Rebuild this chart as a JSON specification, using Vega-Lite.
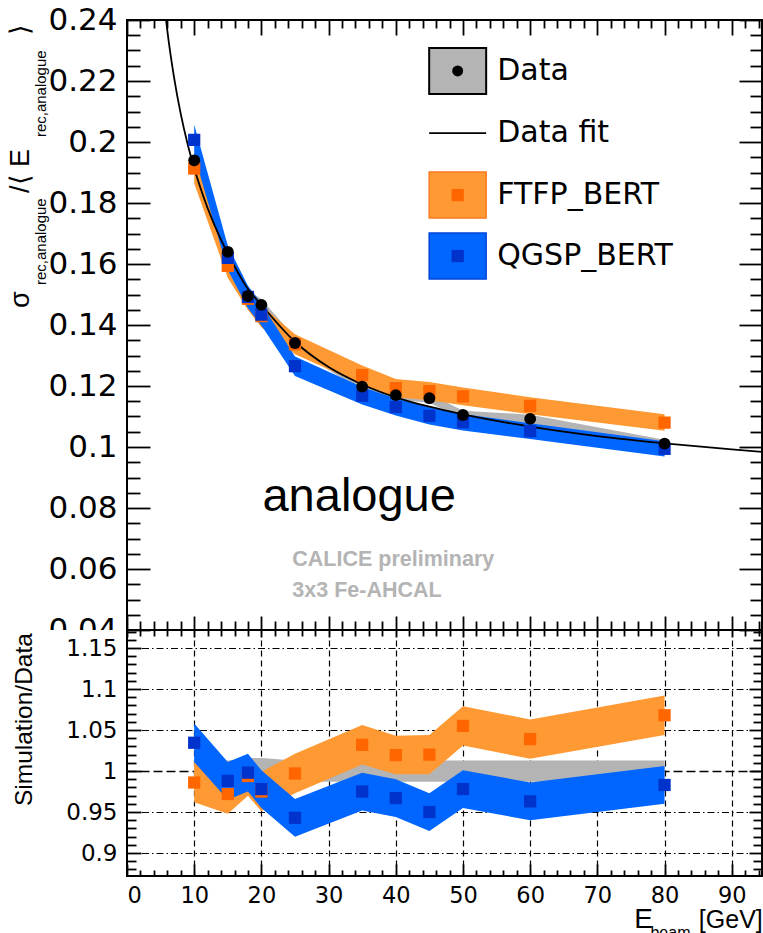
{
  "$schema": "https://vega.github.io/schema/vega-lite/v6.json",
  "padding": {"left": 6, "top": 3, "right": 0, "bottom": 0},
  "bounds": "flush",
  "spacing": 0,
  "config": {
    "view": {"stroke": "black", "strokeWidth": 2},
    "axis": {"domain": false, "grid": false, "tickColor": "black", "tickWidth": 1.8, "labelColor": "black", "labelFont": "DejaVu Sans"}
  },
  "datasets": {
    "one": [{"k": 1}],
    "mc": [
      {"E": 10, "sample": "Data", "v": 0.194, "lo": 0.1915, "hi": 0.1965, "r": 1, "rlo": 0.985, "rhi": 1.015},
      {"E": 15, "sample": "Data", "v": 0.164, "lo": 0.1619, "hi": 0.1661, "r": 1, "rlo": 0.987, "rhi": 1.013},
      {"E": 18, "sample": "Data", "v": 0.1495, "lo": 0.1476, "hi": 0.1514, "r": 1, "rlo": 0.986, "rhi": 1.016},
      {"E": 20, "sample": "Data", "v": 0.1466, "lo": 0.1447, "hi": 0.1485, "r": 1, "rlo": 0.986, "rhi": 1.016},
      {"E": 25, "sample": "Data", "v": 0.1341, "lo": 0.1324, "hi": 0.1358, "r": 1, "rlo": 0.987, "rhi": 1.013},
      {"E": 35, "sample": "Data", "v": 0.1198, "lo": 0.1182, "hi": 0.1214, "r": 1, "rlo": 0.987, "rhi": 1.013},
      {"E": 40, "sample": "Data", "v": 0.117, "lo": 0.1155, "hi": 0.1185, "r": 1, "rlo": 0.987, "rhi": 1.013},
      {"E": 45, "sample": "Data", "v": 0.116, "lo": 0.1145, "hi": 0.1175, "r": 1, "rlo": 0.987, "rhi": 1.013},
      {"E": 50, "sample": "Data", "v": 0.1105, "lo": 0.1091, "hi": 0.1119, "r": 1, "rlo": 0.987, "rhi": 1.013},
      {"E": 60, "sample": "Data", "v": 0.1092, "lo": 0.1078, "hi": 0.1106, "r": 1, "rlo": 0.987, "rhi": 1.013},
      {"E": 80, "sample": "Data", "v": 0.1011, "lo": 0.0998, "hi": 0.1024, "r": 1, "rlo": 0.987, "rhi": 1.013},
      {"E": 10, "sample": "FTFP_BERT", "v": 0.1913, "lo": 0.1865, "hi": 0.1961, "r": 0.986, "rlo": 0.962, "rhi": 1.010},
      {"E": 15, "sample": "FTFP_BERT", "v": 0.1594, "lo": 0.1554, "hi": 0.1634, "r": 0.972, "rlo": 0.948, "rhi": 0.996},
      {"E": 18, "sample": "FTFP_BERT", "v": 0.1486, "lo": 0.1449, "hi": 0.1523, "r": 0.994, "rlo": 0.970, "rhi": 1.018},
      {"E": 20, "sample": "FTFP_BERT", "v": 0.1429, "lo": 0.1393, "hi": 0.1465, "r": 0.975, "rlo": 0.951, "rhi": 0.999},
      {"E": 25, "sample": "FTFP_BERT", "v": 0.1337, "lo": 0.1304, "hi": 0.1370, "r": 0.997, "rlo": 0.973, "rhi": 1.021},
      {"E": 35, "sample": "FTFP_BERT", "v": 0.1236, "lo": 0.1205, "hi": 0.1267, "r": 1.032, "rlo": 1.008, "rhi": 1.056},
      {"E": 40, "sample": "FTFP_BERT", "v": 0.1193, "lo": 0.1163, "hi": 0.1223, "r": 1.0195, "rlo": 0.996, "rhi": 1.043},
      {"E": 45, "sample": "FTFP_BERT", "v": 0.1183, "lo": 0.1153, "hi": 0.1213, "r": 1.02, "rlo": 0.996, "rhi": 1.044},
      {"E": 50, "sample": "FTFP_BERT", "v": 0.1166, "lo": 0.1137, "hi": 0.1195, "r": 1.055, "rlo": 1.031, "rhi": 1.079},
      {"E": 60, "sample": "FTFP_BERT", "v": 0.1135, "lo": 0.1107, "hi": 0.1163, "r": 1.039, "rlo": 1.015, "rhi": 1.063},
      {"E": 80, "sample": "FTFP_BERT", "v": 0.1080, "lo": 0.1053, "hi": 0.1107, "r": 1.068, "rlo": 1.044, "rhi": 1.092},
      {"E": 10, "sample": "QGSP_BERT", "v": 0.2007, "lo": 0.1957, "hi": 0.2057, "r": 1.0345, "rlo": 1.011, "rhi": 1.058},
      {"E": 15, "sample": "QGSP_BERT", "v": 0.1620, "lo": 0.1580, "hi": 0.1660, "r": 0.988, "rlo": 0.965, "rhi": 1.011},
      {"E": 18, "sample": "QGSP_BERT", "v": 0.1492, "lo": 0.1455, "hi": 0.1529, "r": 0.998, "rlo": 0.975, "rhi": 1.021},
      {"E": 20, "sample": "QGSP_BERT", "v": 0.1434, "lo": 0.1398, "hi": 0.1470, "r": 0.978, "rlo": 0.955, "rhi": 1.001},
      {"E": 25, "sample": "QGSP_BERT", "v": 0.1265, "lo": 0.1233, "hi": 0.1297, "r": 0.943, "rlo": 0.920, "rhi": 0.966},
      {"E": 35, "sample": "QGSP_BERT", "v": 0.1168, "lo": 0.1139, "hi": 0.1197, "r": 0.975, "rlo": 0.952, "rhi": 0.998},
      {"E": 40, "sample": "QGSP_BERT", "v": 0.1131, "lo": 0.1103, "hi": 0.1159, "r": 0.967, "rlo": 0.944, "rhi": 0.990},
      {"E": 45, "sample": "QGSP_BERT", "v": 0.1102, "lo": 0.1074, "hi": 0.1130, "r": 0.950, "rlo": 0.927, "rhi": 0.973},
      {"E": 50, "sample": "QGSP_BERT", "v": 0.1081, "lo": 0.1054, "hi": 0.1108, "r": 0.978, "rlo": 0.955, "rhi": 1.001},
      {"E": 60, "sample": "QGSP_BERT", "v": 0.1052, "lo": 0.1026, "hi": 0.1078, "r": 0.963, "rlo": 0.940, "rhi": 0.986},
      {"E": 80, "sample": "QGSP_BERT", "v": 0.0994, "lo": 0.0969, "hi": 0.1019, "r": 0.983, "rlo": 0.960, "rhi": 1.006}
    ],
    "fit": [
      {"E": 5.5, "f": 0.246}, {"E": 6, "f": 0.2365}, {"E": 7, "f": 0.2212}, {"E": 8, "f": 0.2092},
      {"E": 9, "f": 0.1995}, {"E": 10, "f": 0.1915}, {"E": 11, "f": 0.1845}, {"E": 12, "f": 0.1783},
      {"E": 14, "f": 0.1679}, {"E": 15, "f": 0.1635}, {"E": 18, "f": 0.1518}, {"E": 20, "f": 0.1466},
      {"E": 25, "f": 0.1345}, {"E": 30, "f": 0.1262}, {"E": 35, "f": 0.1205}, {"E": 40, "f": 0.1163},
      {"E": 45, "f": 0.1132}, {"E": 50, "f": 0.1107}, {"E": 60, "f": 0.1067}, {"E": 70, "f": 0.1036},
      {"E": 80, "f": 0.1012}, {"E": 90, "f": 0.0992}, {"E": 94.5, "f": 0.0984}
    ]
  },
  "vconcat": [
    {
      "width": 635,
      "height": 610,
      "data": {"name": "mc"},
      "resolve": {"axis": {"x": "independent", "y": "independent"}},
      "layer": [
        {
          "mark": {"type": "point", "opacity": 0},
          "encoding": {
            "x": {"field": "E", "type": "quantitative", "scale": {"domain": [0, 94.5], "nice": false, "zero": false},
              "axis": {"orient": "bottom", "values": [0, 10, 20, 30, 40, 50, 60, 70, 80, 90], "labels": false, "tickSize": -14, "title": null}},
            "y": {"field": "v", "type": "quantitative", "scale": {"domain": [0.04, 0.24], "nice": false, "zero": false},
              "axis": {"orient": "left", "values": [0.04, 0.06, 0.08, 0.1, 0.12, 0.14, 0.16, 0.18, 0.2, 0.22, 0.24], "ticks": false, "labelFontSize": 31, "labelPadding": 10, "format": "~g", "title": null}}
          }
        },
        {
          "mark": {"type": "point", "opacity": 0},
          "encoding": {
            "x": {"field": "E", "type": "quantitative",
              "axis": {"orient": "bottom", "values": [2, 4, 6, 8, 12, 14, 16, 18, 22, 24, 26, 28, 32, 34, 36, 38, 42, 44, 46, 48, 52, 54, 56, 58, 62, 64, 66, 68, 72, 74, 76, 78, 82, 84, 86, 88, 92, 94], "labels": false, "tickSize": -9, "title": null}},
            "y": {"field": "v", "type": "quantitative",
              "axis": {"orient": "left", "values": [0.04, 0.06, 0.08, 0.1, 0.12, 0.14, 0.16, 0.18, 0.2, 0.22, 0.24], "labels": false, "tickSize": -23, "title": null}}
          }
        },
        {
          "mark": {"type": "point", "opacity": 0},
          "encoding": {
            "x": {"field": "E", "type": "quantitative",
              "axis": {"orient": "top", "values": [0, 10, 20, 30, 40, 50, 60, 70, 80, 90], "labels": false, "tickSize": -15, "title": null}},
            "y": {"field": "v", "type": "quantitative",
              "axis": {"orient": "left", "values": [0.045, 0.05, 0.055, 0.065, 0.07, 0.075, 0.085, 0.09, 0.095, 0.105, 0.11, 0.115, 0.125, 0.13, 0.135, 0.145, 0.15, 0.155, 0.165, 0.17, 0.175, 0.185, 0.19, 0.195, 0.205, 0.21, 0.215, 0.225, 0.23, 0.235], "labels": false, "tickSize": -13, "title": null}}
          }
        },
        {
          "mark": {"type": "point", "opacity": 0},
          "encoding": {
            "x": {"field": "E", "type": "quantitative",
              "axis": {"orient": "top", "values": [2, 4, 6, 8, 12, 14, 16, 18, 22, 24, 26, 28, 32, 34, 36, 38, 42, 44, 46, 48, 52, 54, 56, 58, 62, 64, 66, 68, 72, 74, 76, 78, 82, 84, 86, 88, 92, 94], "labels": false, "tickSize": -8, "title": null}},
            "y": {"field": "v", "type": "quantitative",
              "axis": {"orient": "right", "values": [0.04, 0.06, 0.08, 0.1, 0.12, 0.14, 0.16, 0.18, 0.2, 0.22, 0.24], "labels": false, "tickSize": -23, "title": null}}
          }
        },
        {
          "mark": {"type": "point", "opacity": 0},
          "encoding": {
            "x": {"field": "E", "type": "quantitative", "axis": null},
            "y": {"field": "v", "type": "quantitative",
              "axis": {"orient": "right", "values": [0.045, 0.05, 0.055, 0.065, 0.07, 0.075, 0.085, 0.09, 0.095, 0.105, 0.11, 0.115, 0.125, 0.13, 0.135, 0.145, 0.15, 0.155, 0.165, 0.17, 0.175, 0.185, 0.19, 0.195, 0.205, 0.21, 0.215, 0.225, 0.23, 0.235], "labels": false, "tickSize": -12, "title": null}}
          }
        },
        {
          "transform": [{"filter": "datum.sample === 'Data'"}],
          "mark": {"type": "area", "color": "#b4b4b4", "opacity": 1},
          "encoding": {
            "x": {"field": "E", "type": "quantitative", "axis": null},
            "y": {"field": "lo", "type": "quantitative", "axis": null},
            "y2": {"field": "hi"}
          }
        },
        {
          "transform": [{"filter": "datum.sample === 'FTFP_BERT'"}],
          "mark": {"type": "area", "color": "#ff9933", "opacity": 1},
          "encoding": {
            "x": {"field": "E", "type": "quantitative", "axis": null},
            "y": {"field": "lo", "type": "quantitative", "axis": null},
            "y2": {"field": "hi"}
          }
        },
        {
          "transform": [{"filter": "datum.sample === 'QGSP_BERT'"}],
          "mark": {"type": "area", "color": "#0066ff", "opacity": 1},
          "encoding": {
            "x": {"field": "E", "type": "quantitative", "axis": null},
            "y": {"field": "lo", "type": "quantitative", "axis": null},
            "y2": {"field": "hi"}
          }
        },
        {
          "data": {"name": "fit"},
          "mark": {"type": "line", "color": "black", "strokeWidth": 1.8, "interpolate": "monotone", "clip": true},
          "encoding": {
            "x": {"field": "E", "type": "quantitative", "axis": null},
            "y": {"field": "f", "type": "quantitative", "axis": null}
          }
        },
        {
          "transform": [{"filter": "datum.sample === 'FTFP_BERT'"}],
          "mark": {"type": "square", "filled": true, "color": "#ff6600", "size": 150, "opacity": 1},
          "encoding": {
            "x": {"field": "E", "type": "quantitative", "axis": null},
            "y": {"field": "v", "type": "quantitative", "axis": null}
          }
        },
        {
          "transform": [{"filter": "datum.sample === 'QGSP_BERT'"}],
          "mark": {"type": "square", "filled": true, "color": "#0033cc", "size": 150, "opacity": 1},
          "encoding": {
            "x": {"field": "E", "type": "quantitative", "axis": null},
            "y": {"field": "v", "type": "quantitative", "axis": null}
          }
        },
        {
          "transform": [{"filter": "datum.sample === 'Data'"}],
          "mark": {"type": "circle", "color": "black", "size": 140, "opacity": 1},
          "encoding": {
            "x": {"field": "E", "type": "quantitative", "axis": null},
            "y": {"field": "v", "type": "quantitative", "axis": null}
          }
        },
        {
          "data": {"name": "one"},
          "mark": {"type": "rect", "fill": "#b4b4b4", "stroke": "black", "strokeWidth": 2},
          "encoding": {
            "x": {"datum": 44.97, "type": "quantitative", "axis": null}, "x2": {"datum": 53.45},
            "y": {"datum": 0.23085, "type": "quantitative", "axis": null}, "y2": {"datum": 0.21575}
          }
        },
        {
          "data": {"name": "one"},
          "mark": {"type": "circle", "color": "black", "size": 120, "opacity": 1},
          "encoding": {
            "x": {"datum": 49.21, "type": "quantitative", "axis": null},
            "y": {"datum": 0.2233, "type": "quantitative", "axis": null}
          }
        },
        {
          "data": {"name": "one"},
          "mark": {"type": "rule", "color": "black", "strokeWidth": 1.8},
          "encoding": {
            "x": {"datum": 44.97, "type": "quantitative", "axis": null}, "x2": {"datum": 53.45},
            "y": {"datum": 0.2029, "type": "quantitative", "axis": null}
          }
        },
        {
          "data": {"name": "one"},
          "mark": {"type": "rect", "fill": "#ff9933", "stroke": "#ff7a1f", "strokeWidth": 1.5},
          "encoding": {
            "x": {"datum": 44.97, "type": "quantitative", "axis": null}, "x2": {"datum": 53.45},
            "y": {"datum": 0.19015, "type": "quantitative", "axis": null}, "y2": {"datum": 0.17505}
          }
        },
        {
          "data": {"name": "one"},
          "mark": {"type": "square", "filled": true, "color": "#ff6600", "size": 150, "opacity": 1},
          "encoding": {
            "x": {"datum": 49.21, "type": "quantitative", "axis": null},
            "y": {"datum": 0.1826, "type": "quantitative", "axis": null}
          }
        },
        {
          "data": {"name": "one"},
          "mark": {"type": "rect", "fill": "#0066ff", "stroke": "#0044dd", "strokeWidth": 1.5},
          "encoding": {
            "x": {"datum": 44.97, "type": "quantitative", "axis": null}, "x2": {"datum": 53.45},
            "y": {"datum": 0.17015, "type": "quantitative", "axis": null}, "y2": {"datum": 0.15505}
          }
        },
        {
          "data": {"name": "one"},
          "mark": {"type": "square", "filled": true, "color": "#0033cc", "size": 150, "opacity": 1},
          "encoding": {
            "x": {"datum": 49.21, "type": "quantitative", "axis": null},
            "y": {"datum": 0.1626, "type": "quantitative", "axis": null}
          }
        },
        {
          "data": {"name": "one"},
          "mark": {"type": "text", "text": "Data", "font": "DejaVu Sans", "fontSize": 30, "align": "left", "baseline": "middle", "color": "black"},
          "encoding": {
            "x": {"datum": 55.1, "type": "quantitative", "axis": null},
            "y": {"datum": 0.2233, "type": "quantitative", "axis": null}
          }
        },
        {
          "data": {"name": "one"},
          "mark": {"type": "text", "text": "Data fit", "font": "DejaVu Sans", "fontSize": 30, "align": "left", "baseline": "middle", "color": "black"},
          "encoding": {
            "x": {"datum": 55.1, "type": "quantitative", "axis": null},
            "y": {"datum": 0.2029, "type": "quantitative", "axis": null}
          }
        },
        {
          "data": {"name": "one"},
          "mark": {"type": "text", "text": "FTFP_BERT", "font": "DejaVu Sans", "fontSize": 30, "align": "left", "baseline": "middle", "color": "black"},
          "encoding": {
            "x": {"datum": 55.1, "type": "quantitative", "axis": null},
            "y": {"datum": 0.1826, "type": "quantitative", "axis": null}
          }
        },
        {
          "data": {"name": "one"},
          "mark": {"type": "text", "text": "QGSP_BERT", "font": "DejaVu Sans", "fontSize": 30, "align": "left", "baseline": "middle", "color": "black"},
          "encoding": {
            "x": {"datum": 55.1, "type": "quantitative", "axis": null},
            "y": {"datum": 0.1626, "type": "quantitative", "axis": null}
          }
        },
        {
          "data": {"name": "one"},
          "mark": {"type": "text", "text": "analogue", "font": "Liberation Sans", "fontSize": 47, "align": "center", "baseline": "alphabetic", "color": "black"},
          "encoding": {
            "x": {"datum": 34.55, "type": "quantitative", "axis": null},
            "y": {"datum": 0.079, "type": "quantitative", "axis": null}
          }
        },
        {
          "data": {"name": "one"},
          "mark": {"type": "text", "text": "CALICE preliminary", "font": "Liberation Sans", "fontWeight": "bold", "fontSize": 21.5, "align": "left", "baseline": "alphabetic", "color": "#b4b4b4"},
          "encoding": {
            "x": {"datum": 24.6, "type": "quantitative", "axis": null},
            "y": {"datum": 0.061, "type": "quantitative", "axis": null}
          }
        },
        {
          "data": {"name": "one"},
          "mark": {"type": "text", "text": "3x3 Fe-AHCAL", "font": "Liberation Sans", "fontWeight": "bold", "fontSize": 21.5, "align": "left", "baseline": "alphabetic", "color": "#b4b4b4"},
          "encoding": {
            "x": {"datum": 24.6, "type": "quantitative", "axis": null},
            "y": {"datum": 0.0508, "type": "quantitative", "axis": null}
          }
        },
        {
          "data": {"name": "one"},
          "mark": {"type": "text", "text": "σ", "font": "Liberation Sans", "fontSize": 27, "angle": 270, "align": "left", "baseline": "alphabetic", "color": "black"},
          "encoding": {
            "x": {"datum": -14.55, "type": "quantitative", "axis": null},
            "y": {"datum": 0.1456, "type": "quantitative", "axis": null}
          }
        },
        {
          "data": {"name": "one"},
          "mark": {"type": "text", "text": "rec,analogue", "font": "Liberation Sans", "fontSize": 15, "angle": 270, "align": "left", "baseline": "alphabetic", "color": "black"},
          "encoding": {
            "x": {"datum": -12.0, "type": "quantitative", "axis": null},
            "y": {"datum": 0.1531, "type": "quantitative", "axis": null}
          }
        },
        {
          "data": {"name": "one"},
          "mark": {"type": "text", "text": "/⟨ E", "font": "Liberation Sans", "fontSize": 27, "angle": 270, "align": "left", "baseline": "alphabetic", "color": "black"},
          "encoding": {
            "x": {"datum": -14.55, "type": "quantitative", "axis": null},
            "y": {"datum": 0.1833, "type": "quantitative", "axis": null}
          }
        },
        {
          "data": {"name": "one"},
          "mark": {"type": "text", "text": "rec,analogue", "font": "Liberation Sans", "fontSize": 15, "angle": 270, "align": "left", "baseline": "alphabetic", "color": "black"},
          "encoding": {
            "x": {"datum": -12.0, "type": "quantitative", "axis": null},
            "y": {"datum": 0.2016, "type": "quantitative", "axis": null}
          }
        },
        {
          "data": {"name": "one"},
          "mark": {"type": "text", "text": "⟩", "font": "Liberation Sans", "fontSize": 27, "angle": 270, "align": "left", "baseline": "alphabetic", "color": "black"},
          "encoding": {
            "x": {"datum": -14.55, "type": "quantitative", "axis": null},
            "y": {"datum": 0.2351, "type": "quantitative", "axis": null}
          }
        }
      ]
    },
    {
      "width": 635,
      "height": 246,
      "data": {"name": "mc"},
      "resolve": {"axis": {"x": "independent", "y": "independent"}},
      "layer": [
        {
          "mark": {"type": "point", "opacity": 0},
          "encoding": {
            "x": {"field": "E", "type": "quantitative", "scale": {"domain": [0, 94.5], "nice": false, "zero": false},
              "axis": {"orient": "bottom", "values": [10, 20, 30, 40, 50, 60, 70, 80, 90], "grid": true, "gridColor": "black", "gridDash": [6, 4], "gridWidth": 1.2, "ticks": false, "labels": false, "title": null, "zindex": 0}},
            "y": {"field": "r", "type": "quantitative", "scale": {"domain": [0.872, 1.172], "nice": false, "zero": false},
              "axis": {"orient": "left", "values": [0.9, 0.95, 1.05, 1.1, 1.15], "grid": true, "gridColor": "black", "gridDash": [7, 3, 1.5, 3], "gridWidth": 1.2, "ticks": false, "labels": false, "title": null, "zindex": 0}}
          }
        },
        {
          "mark": {"type": "point", "opacity": 0},
          "encoding": {
            "x": {"field": "E", "type": "quantitative",
              "axis": {"orient": "bottom", "values": [0, 10, 20, 30, 40, 50, 60, 70, 80, 90], "ticks": false, "labelFontSize": 22.5, "labelPadding": 8, "format": "d", "title": null, "zindex": 1}},
            "y": {"field": "r", "type": "quantitative",
              "axis": {"orient": "left", "values": [1], "grid": true, "gridColor": "black", "gridDash": [9, 4], "gridWidth": 1.5, "ticks": false, "labels": false, "title": null, "zindex": 0}}
          }
        },
        {
          "transform": [{"filter": "datum.sample === 'Data'"}],
          "mark": {"type": "area", "color": "#b4b4b4", "opacity": 1},
          "encoding": {
            "x": {"field": "E", "type": "quantitative", "axis": null},
            "y": {"field": "rlo", "type": "quantitative", "axis": null},
            "y2": {"field": "rhi"}
          }
        },
        {
          "transform": [{"filter": "datum.sample === 'FTFP_BERT'"}],
          "mark": {"type": "area", "color": "#ff9933", "opacity": 1},
          "encoding": {
            "x": {"field": "E", "type": "quantitative", "axis": null},
            "y": {"field": "rlo", "type": "quantitative", "axis": null},
            "y2": {"field": "rhi"}
          }
        },
        {
          "transform": [{"filter": "datum.sample === 'QGSP_BERT'"}],
          "mark": {"type": "area", "color": "#0066ff", "opacity": 1},
          "encoding": {
            "x": {"field": "E", "type": "quantitative", "axis": null},
            "y": {"field": "rlo", "type": "quantitative", "axis": null},
            "y2": {"field": "rhi"}
          }
        },
        {
          "transform": [{"filter": "datum.sample === 'FTFP_BERT'"}],
          "mark": {"type": "square", "filled": true, "color": "#ff6600", "size": 150, "opacity": 1},
          "encoding": {
            "x": {"field": "E", "type": "quantitative", "axis": null},
            "y": {"field": "r", "type": "quantitative", "axis": null}
          }
        },
        {
          "transform": [{"filter": "datum.sample === 'QGSP_BERT'"}],
          "mark": {"type": "square", "filled": true, "color": "#0033cc", "size": 150, "opacity": 1},
          "encoding": {
            "x": {"field": "E", "type": "quantitative", "axis": null},
            "y": {"field": "r", "type": "quantitative", "axis": null}
          }
        },
        {
          "data": {"name": "one"},
          "mark": {"type": "rect", "fill": "white", "stroke": null},
          "encoding": {
            "x": {"datum": -12.5, "type": "quantitative", "axis": null}, "x2": {"datum": -0.2},
            "y": {"datum": 1.172, "type": "quantitative", "axis": null}, "y2": {"datum": 1.155}
          }
        },
        {
          "mark": {"type": "point", "opacity": 0},
          "encoding": {
            "x": {"field": "E", "type": "quantitative",
              "axis": {"orient": "bottom", "values": [0, 10, 20, 30, 40, 50, 60, 70, 80, 90], "labels": false, "tickSize": -12, "title": null, "zindex": 1}},
            "y": {"field": "r", "type": "quantitative",
              "axis": {"orient": "left", "values": [0.9, 0.95, 1, 1.05, 1.1, 1.15], "ticks": false, "labelFontSize": 23, "labelPadding": 10, "format": "~g", "title": null, "zindex": 1}}
          }
        },
        {
          "mark": {"type": "point", "opacity": 0},
          "encoding": {
            "x": {"field": "E", "type": "quantitative",
              "axis": {"orient": "bottom", "values": [2, 4, 6, 8, 12, 14, 16, 18, 22, 24, 26, 28, 32, 34, 36, 38, 42, 44, 46, 48, 52, 54, 56, 58, 62, 64, 66, 68, 72, 74, 76, 78, 82, 84, 86, 88, 92, 94], "labels": false, "tickSize": -6, "title": null, "zindex": 1}},
            "y": {"field": "r", "type": "quantitative",
              "axis": {"orient": "left", "values": [0.9, 0.95, 1, 1.05, 1.1, 1.15], "labels": false, "tickSize": -14, "title": null, "zindex": 1}}
          }
        },
        {
          "mark": {"type": "point", "opacity": 0},
          "encoding": {
            "x": {"field": "E", "type": "quantitative",
              "axis": {"orient": "top", "values": [0, 10, 20, 30, 40, 50, 60, 70, 80, 90], "labels": false, "tickSize": -7, "title": null, "zindex": 1}},
            "y": {"field": "r", "type": "quantitative",
              "axis": {"orient": "left", "values": [0.88, 0.89, 0.91, 0.92, 0.93, 0.94, 0.96, 0.97, 0.98, 0.99, 1.01, 1.02, 1.03, 1.04, 1.06, 1.07, 1.08, 1.09, 1.11, 1.12, 1.13, 1.14, 1.16, 1.17], "labels": false, "tickSize": -9, "title": null, "zindex": 1}}
          }
        },
        {
          "mark": {"type": "point", "opacity": 0},
          "encoding": {
            "x": {"field": "E", "type": "quantitative",
              "axis": {"orient": "top", "values": [2, 4, 6, 8, 12, 14, 16, 18, 22, 24, 26, 28, 32, 34, 36, 38, 42, 44, 46, 48, 52, 54, 56, 58, 62, 64, 66, 68, 72, 74, 76, 78, 82, 84, 86, 88, 92, 94], "labels": false, "tickSize": -6, "title": null, "zindex": 1}},
            "y": {"field": "r", "type": "quantitative",
              "axis": {"orient": "right", "values": [0.9, 0.95, 1, 1.05, 1.1, 1.15], "labels": false, "tickSize": -13, "title": null, "zindex": 1}}
          }
        },
        {
          "mark": {"type": "point", "opacity": 0},
          "encoding": {
            "x": {"field": "E", "type": "quantitative", "axis": null},
            "y": {"field": "r", "type": "quantitative",
              "axis": {"orient": "right", "values": [0.88, 0.89, 0.91, 0.92, 0.93, 0.94, 0.96, 0.97, 0.98, 0.99, 1.01, 1.02, 1.03, 1.04, 1.06, 1.07, 1.08, 1.09, 1.11, 1.12, 1.13, 1.14, 1.16, 1.17], "labels": false, "tickSize": -9, "title": null, "zindex": 1}}
          }
        },
        {
          "data": {"name": "one"},
          "mark": {"type": "text", "text": "Simulation/Data", "font": "Liberation Sans", "fontSize": 24.5, "angle": 270, "align": "left", "baseline": "alphabetic", "color": "black"},
          "encoding": {
            "x": {"datum": -14.1, "type": "quantitative", "axis": null},
            "y": {"datum": 0.9573, "type": "quantitative", "axis": null}
          }
        },
        {
          "data": {"name": "one"},
          "mark": {"type": "text", "text": "E", "font": "Liberation Sans", "fontSize": 28, "align": "left", "baseline": "alphabetic", "color": "black"},
          "encoding": {
            "x": {"datum": 75.5, "type": "quantitative", "axis": null},
            "y": {"datum": 0.8086, "type": "quantitative", "axis": null}
          }
        },
        {
          "data": {"name": "one"},
          "mark": {"type": "text", "text": "beam", "font": "Liberation Sans", "fontSize": 16, "align": "left", "baseline": "alphabetic", "color": "black"},
          "encoding": {
            "x": {"datum": 77.9, "type": "quantitative", "axis": null},
            "y": {"datum": 0.7963, "type": "quantitative", "axis": null}
          }
        },
        {
          "data": {"name": "one"},
          "mark": {"type": "text", "text": "[GeV]", "font": "Liberation Sans", "fontSize": 25, "align": "left", "baseline": "alphabetic", "color": "black"},
          "encoding": {
            "x": {"datum": 85.1, "type": "quantitative", "axis": null},
            "y": {"datum": 0.8086, "type": "quantitative", "axis": null}
          }
        }
      ]
    }
  ]
}
